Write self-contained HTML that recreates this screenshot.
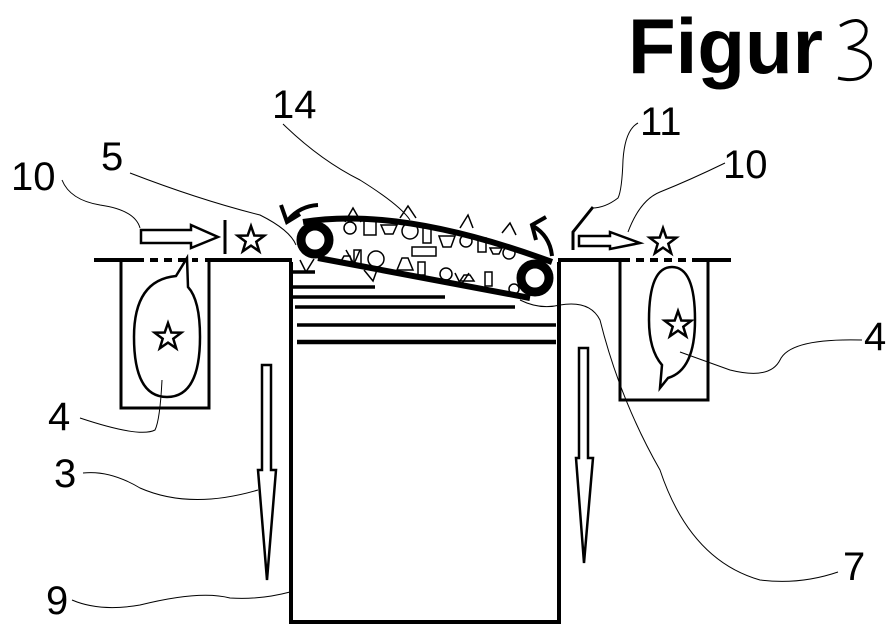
<!DOCTYPE html>
<html><head><meta charset="utf-8"><style>
html,body{margin:0;padding:0;background:#fff;}
svg{display:block;}
text{font-family:"Liberation Sans",sans-serif;fill:#000;}
</style></head><body>
<svg width="893" height="636" viewBox="0 0 893 636" xmlns="http://www.w3.org/2000/svg">
<defs>
<polygon id="star" points="0,-14 3.3,-4.5 13.3,-4.3 5.3,1.7 8.2,11.3 0,5.6 -8.2,11.3 -5.3,1.7 -13.3,-4.3 -3.3,-4.5" fill="#fff" stroke="#000" stroke-width="2.5"/>
</defs>
<text x="628" y="73" font-size="78" font-weight="bold">Figur</text>
<path d="M840 26 Q860 14 866 28 Q868 42 848 48 Q874 52 870 68 Q862 84 838 78" fill="none" stroke="#000" stroke-width="3"/>
<g font-size="40">
<text x="272" y="118">14</text>
<text x="101" y="170">5</text>
<text x="11" y="190">10</text>
<text x="640" y="135">11</text>
<text x="723" y="178">10</text>
<text x="864" y="350">4</text>
<text x="48" y="430">4</text>
<text x="54" y="487">3</text>
<text x="46" y="614">9</text>
<text x="843" y="580">7</text>
</g>
<g fill="none" stroke="#000" stroke-width="1">
<path d="M283 124 Q320 160 360 180 Q400 205 410 220"/>
<path d="M130 173 Q200 200 260 215 Q290 230 296 245"/>
<path d="M62 180 Q70 200 100 205 Q135 210 140 228"/>
<path d="M638 123 Q625 130 623 160 Q622 190 618 198 Q605 208 592 208"/>
<path d="M725 163 Q690 180 660 192 Q640 200 628 232"/>
<path d="M862 340 Q790 338 780 360 Q770 380 730 370 L680 352"/>
<path d="M80 418 Q140 438 155 430 Q160 420 162 380"/>
<path d="M83 473 Q110 470 140 488 Q190 510 258 490"/>
<path d="M72 600 Q100 612 140 605 Q200 590 230 598 Q260 600 290 592"/>
<path d="M838 572 Q800 585 760 580 Q690 560 660 470 Q620 400 600 320 Q590 300 560 305 Q540 310 520 300"/>
</g>
<g stroke="#000" stroke-width="4">
<line x1="94" y1="260" x2="136" y2="260"/>
<line x1="136" y1="260" x2="198" y2="260" stroke-dasharray="8 6"/>
<line x1="205" y1="260" x2="292" y2="260"/>
<line x1="558" y1="260" x2="622" y2="260"/>
<line x1="622" y1="260" x2="697" y2="260" stroke-dasharray="8 6"/>
<line x1="697" y1="260" x2="731" y2="260"/>
</g>
<path d="M121 260 V408 H209 V260" fill="none" stroke="#000" stroke-width="3"/>
<path d="M620 260 V400 H708 V260" fill="none" stroke="#000" stroke-width="3"/>
<path d="M176 276 L187 258 L188 287 Q200 300 200 337 Q200 397 167 397 Q134 397 134 337 Q134 280 176 276 Z" fill="none" stroke="#000" stroke-width="2.5"/>
<use href="#star" x="168" y="337"/>
<path d="M668 378 L660 388 L662 365 Q649 350 649 320 Q649 267 672 267 Q695 267 695 320 Q695 370 668 378 Z" fill="none" stroke="#000" stroke-width="2.5"/>
<use href="#star" x="678" y="325"/>
<path d="M291 262 V622 H559 V262" fill="none" stroke="#000" stroke-width="4"/>
<g stroke="#000" stroke-width="3.5">
<line x1="293" y1="272" x2="315" y2="272"/>
<line x1="293" y1="287" x2="375" y2="287"/>
<line x1="293" y1="297" x2="445" y2="297"/>
<line x1="295" y1="307" x2="515" y2="307"/>
<line x1="297" y1="325" x2="556" y2="325"/>
<line x1="297" y1="342" x2="556" y2="342" stroke-width="4.5"/>
</g>
<polygon points="141,230 191,230 191,225 218,237 191,248 191,243 141,243" fill="#fff" stroke="#000" stroke-width="2.5"/>
<line x1="225" y1="220" x2="225" y2="254" stroke="#000" stroke-width="3"/>
<use href="#star" x="251" y="240"/>
<polygon points="579,236 610,236 610,232 640,243 610,249 610,246 579,246" fill="#fff" stroke="#000" stroke-width="2.5"/>
<path d="M573 250 V232 L593 207" fill="none" stroke="#000" stroke-width="3"/>
<use href="#star" x="663" y="242"/>
<g fill="none" stroke="#000" stroke-width="1.5">
<path d="M345 222 l8 -14 l8 14 M400 218 l8 -12 l8 12 M460 228 l8 -13 l5 13 M502 233 l8 -10 l6 12 M360 250 l-6 14 l-8 -14 M300 260 l6 12 l8 -13 M455 273 l6 12 l8 -12 M378 267 l-5 14 l-9 -11"/>
<circle cx="350" cy="228" r="6"/><rect x="364" y="221" width="12" height="14"/>
<path d="M381 225 h16 l-4 9 h-8 z"/><circle cx="410" cy="231" r="8"/>
<rect x="423" y="228" width="8" height="15"/><path d="M439 236 h16 l-4 11 h-8 z"/>
<circle cx="466" cy="241" r="6"/><rect x="478" y="238" width="8" height="14"/>
<path d="M490 248 h12 l-3 6 h-6 z"/><circle cx="509" cy="253" r="6"/>
<rect x="412" y="247" width="24" height="9"/>
<path d="M340 263 l4 -7 h6 l2 7 z"/><rect x="354" y="250" width="7" height="14"/>
<circle cx="376" cy="259" r="8"/><path d="M397 270 h16 l-5 -12 h-6 z"/>
<rect x="418" y="262" width="7" height="13"/><circle cx="446" cy="274" r="6"/>
<path d="M460 281 h14 l-4 -6 h-6 z"/><rect x="485" y="272" width="7" height="14"/>
<circle cx="514" cy="289" r="5"/>
</g>
<path d="M303 222 Q400 206 552 262 M318 258 L530 298" fill="none" stroke="#000" stroke-width="6"/>
<circle cx="315" cy="240" r="14" fill="#fff" stroke="#000" stroke-width="9"/>
<circle cx="535" cy="278" r="14" fill="#fff" stroke="#000" stroke-width="9"/>
<path d="M318 205 Q300 206 288 220" fill="none" stroke="#000" stroke-width="4"/>
<path d="M281 205 L287 222 L300 214" fill="none" stroke="#000" stroke-width="4"/>
<path d="M533 226 Q550 236 552 256" fill="none" stroke="#000" stroke-width="4"/>
<path d="M546 217 L532 225 L536 240" fill="none" stroke="#000" stroke-width="4"/>
<polygon points="262,365 271,365 271,470 276,470 267,580 258,470 262,470" fill="#fff" stroke="#000" stroke-width="2.5"/>
<polygon points="579,348 588,348 588,458 593,458 584,563 576,458 579,458" fill="#fff" stroke="#000" stroke-width="2.5"/>
</svg>
</body></html>
